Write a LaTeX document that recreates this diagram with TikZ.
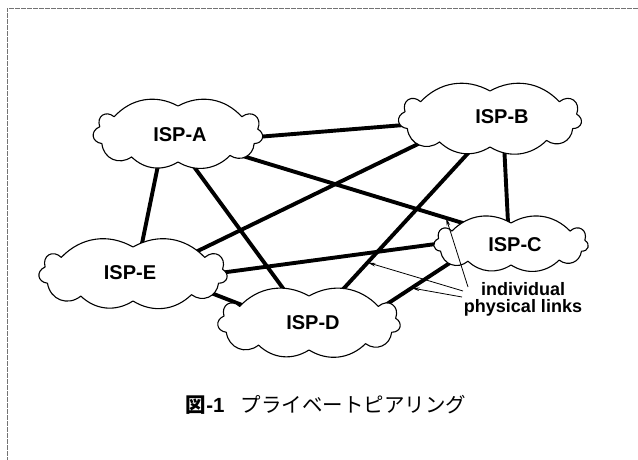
\documentclass[tikz,border=0pt]{standalone}
\usepackage{fontspec}
\setmainfont{Liberation Sans}
\newfontfamily\cjk{Noto Sans CJK JP}
\usetikzlibrary{shapes.geometric,arrows.meta}

\tikzset{
  cloudline/.style={draw=black, fill=white, line width=1.1pt, line join=round},
  bigpuff/.style={bend right=38},
  midpuff/.style={bend right=60, looseness=1.2},
  smallpuff/.style={bend right=75, looseness=1.6},
  % a cloud outline: puffs bulging outward between points of an ellipse
  pics/ispcloud/.style 2 args={code={
    \filldraw[cloudline]
      (10:#1 and #2)
      to[smallpuff] (38:#1 and #2)
      to[bigpuff]   (90:#1 and #2)
      to[bigpuff]   (142:#1 and #2)
      to[smallpuff] (165:#1 and #2)
      to[smallpuff] (200:#1 and #2)
      to[midpuff]   (235:#1 and #2)
      to[bigpuff]   (270:#1 and #2)
      to[bigpuff]   (310:#1 and #2)
      to[midpuff]   (340:#1 and #2)
      to[smallpuff] (370:#1 and #2) -- cycle;
  }},
}

\begin{document}
\begin{tikzpicture}[x=1pt,y=-1pt,
  core/.style={ellipse, draw=none, inner sep=0pt},
  ispname/.style={font=\fontsize{20}{20}\selectfont\bfseries, inner sep=0pt},
  peering/.style={line width=3.9pt},
  pointer/.style={line width=0.8pt, -{Stealth[length=8pt,width=3.5pt]}},
  framing/.style={black!55, line width=0.6pt, dash pattern=on 5pt off 1pt}]
  \useasboundingbox (0,0) rectangle (638,460);

  % page frame (top and left edges only)
  \draw[framing] (638,8) -- (7,8) -- (7,460);

  % body of each ISP cloud, used for the link end points
  \node[core, minimum width=162pt, minimum height=56pt] (A) at (178,134) {};
  \node[core, minimum width=176pt, minimum height=56pt] (B) at (490,119) {};
  \node[core, minimum width=150pt, minimum height=42pt] (C) at (511,244) {};
  \node[core, minimum width=176pt, minimum height=54pt] (D) at (309,323) {};
  \node[core, minimum width=182pt, minimum height=54pt] (E) at (133,274) {};

  % private peering links
  \draw[peering] (A.-2)   -- (B.184);
  \draw[peering] (A.-19)  -- (C.155);
  \draw[peering] (A.-125) -- (E.73);
  \draw[peering] (A.-66)  -- (D.127);
  \draw[peering] (B.-120) -- (D.44);
  \draw[peering] (B.198)  -- (E.19);
  \draw[peering] (B.-63)  -- (C.98);
  \draw[peering] (E.1)    -- (C.180);
  \draw[peering] (E.-13)  -- (D.165);
  \draw[peering] (D.12)   -- (C.195);

  % cloud outlines over the link ends
  \pic at (A.center) {ispcloud={81pt}{28pt}};
  \pic at (B.center) {ispcloud={88pt}{28pt}};
  \pic at (C.center) {ispcloud={75pt}{21pt}};
  \pic at (D.center) {ispcloud={88pt}{27pt}};
  \pic at (E.center) {ispcloud={91pt}{27pt}};

  \node[ispname] (tA) at (180,135) {ISP-A};
  \node[ispname] (tB) at (502,117) {ISP-B};
  \node[ispname] (tC) at (515,245) {ISP-C};
  \node[ispname] (tD) at (313,323) {ISP-D};
  \node[ispname] (tE) at (130,273) {ISP-E};

  % points on three of the links for the annotation arrows
  \path (A.-19)  -- (C.155) coordinate[pos=0.89] (tipAC);
  \path (B.-120) -- (D.44)  coordinate[pos=0.77] (tipBD);
  \path (D.12)   -- (C.195) coordinate[pos=0.40] (tipDC);

  \node[font=\fontsize{18}{17}\selectfont\bfseries, align=center, inner sep=0pt]
    (links) at (523,299) {individual\\physical links};
  \coordinate (s1) at (468,287);
  \coordinate (s2) at (463,291);
  \coordinate (s3) at (462,297);
  \draw[pointer] (s1) -- (tipAC);
  \draw[pointer] (s2) -- (tipBD);
  \draw[pointer] (s3) -- (tipDC);

  % caption
  \node[font=\fontsize{20.5}{20.5}\selectfont, inner sep=0pt] (cap) at (326,405)
    {{\cjk\bfseries 図}{\bfseries -1}\hspace{16pt}{\cjk プライベートピアリング}};
\end{tikzpicture}
\end{document}
